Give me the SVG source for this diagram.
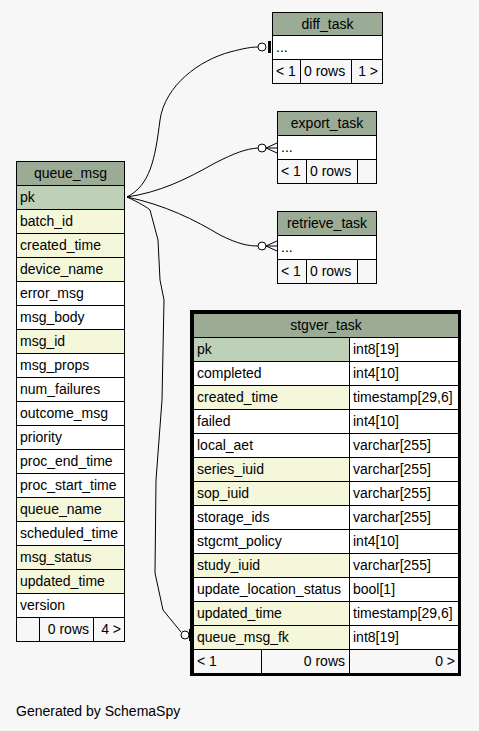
<svg xmlns="http://www.w3.org/2000/svg" width="479" height="731" viewBox="0 0 479 731">
<style>
text{font-family:"Liberation Sans",Arial,sans-serif;font-size:14px;fill:#000}
.h{fill:#9bab96;stroke:#000;stroke-width:1}
.k{fill:#bed1b8;stroke:#000;stroke-width:1}
.i{fill:#f4f7da;stroke:#000;stroke-width:1}
.w{fill:#fff;stroke:#000;stroke-width:1}
.f{fill:#f7f7f7;stroke:#000;stroke-width:1}
.c{text-anchor:middle}
.r{text-anchor:end}
.ln{fill:none;stroke:#000;stroke-width:1}
.o{fill:#fff;stroke:#000;stroke-width:1}
</style>
<rect width="479" height="731" fill="#f7f7f7"/>
<g id="connectors">
<path class="ln" d="M127,197 C150,185 155,160 160,120 C165,85 200,60 230,52 C245,48 252,47 258,47"/>
<circle class="o" cx="262" cy="47" r="4"/>
<rect x="268" y="41" width="3" height="12" fill="#000"/>
<path class="ln" d="M127,197 C160,192 185,180 215,163 C235,153 245,149 258,148"/>
<circle class="o" cx="262" cy="148" r="4"/>
<path class="ln" d="M266,148 L277,143 M266,148 L277,148 M266,148 L277,153"/>
<path class="ln" d="M127,197 C165,205 195,220 220,235 C238,244 248,246 258,246"/>
<circle class="o" cx="262" cy="246" r="4"/>
<path class="ln" d="M266,246 L277,241 M266,246 L277,246 M266,246 L277,251"/>
<path class="ln" d="M127,197 C140,203 148,208 150,210 L158,240 L160,280 L164,300 L162,400 L156,480 L155,573 L163,610 L181,632"/>
<circle class="o" cx="185" cy="635" r="4"/>
<rect x="189" y="629" width="2" height="12" fill="#000"/>
</g>
<g id="diff_task">
<rect class="h" x="272.5" y="12.5" width="110" height="23"/>
<text class="c" x="327.5" y="29">diff_task</text>
<rect class="w" x="272.5" y="35.5" width="110" height="24"/>
<text x="276" y="52">...</text>
<rect class="f" x="272.5" y="59.5" width="28" height="24"/>
<rect class="f" x="300.5" y="59.5" width="51" height="24"/>
<rect class="f" x="351.5" y="59.5" width="31" height="24"/>
<text x="276" y="76">&lt; 1</text>
<text x="304" y="76">0 rows</text>
<text class="r" x="378" y="76">1 &gt;</text>
</g>
<g id="export_task">
<rect class="h" x="277.5" y="111.5" width="99" height="24"/>
<text class="c" x="327" y="128">export_task</text>
<rect class="w" x="277.5" y="135.5" width="99" height="24"/>
<text x="281" y="152">...</text>
<rect class="f" x="277.5" y="159.5" width="29" height="24"/>
<rect class="f" x="306.5" y="159.5" width="51" height="24"/>
<rect class="f" x="357.5" y="159.5" width="19" height="24"/>
<text x="281" y="176">&lt; 1</text>
<text x="310" y="176">0 rows</text>
</g>
<g id="retrieve_task">
<rect class="h" x="277.5" y="211.5" width="99" height="24"/>
<text class="c" x="327" y="228">retrieve_task</text>
<rect class="w" x="277.5" y="235.5" width="99" height="24"/>
<text x="281" y="252">...</text>
<rect class="f" x="277.5" y="259.5" width="29" height="24"/>
<rect class="f" x="306.5" y="259.5" width="51" height="24"/>
<rect class="f" x="357.5" y="259.5" width="19" height="24"/>
<text x="281" y="276">&lt; 1</text>
<text x="310" y="276">0 rows</text>
</g>
<g id="queue_msg">
<rect class="h" x="16.5" y="161.5" width="108" height="24"/>
<text class="c" x="70.5" y="178">queue_msg</text>
<rect class="k" x="16.5" y="185.5" width="108" height="24"/><text x="20" y="202">pk</text>
<rect class="i" x="16.5" y="209.5" width="108" height="24"/><text x="20" y="226">batch_id</text>
<rect class="i" x="16.5" y="233.5" width="108" height="24"/><text x="20" y="250">created_time</text>
<rect class="i" x="16.5" y="257.5" width="108" height="24"/><text x="20" y="274">device_name</text>
<rect class="w" x="16.5" y="281.5" width="108" height="24"/><text x="20" y="298">error_msg</text>
<rect class="w" x="16.5" y="305.5" width="108" height="24"/><text x="20" y="322">msg_body</text>
<rect class="i" x="16.5" y="329.5" width="108" height="24"/><text x="20" y="346">msg_id</text>
<rect class="w" x="16.5" y="353.5" width="108" height="24"/><text x="20" y="370">msg_props</text>
<rect class="w" x="16.5" y="377.5" width="108" height="24"/><text x="20" y="394">num_failures</text>
<rect class="w" x="16.5" y="401.5" width="108" height="24"/><text x="20" y="418">outcome_msg</text>
<rect class="w" x="16.5" y="425.5" width="108" height="24"/><text x="20" y="442">priority</text>
<rect class="w" x="16.5" y="449.5" width="108" height="24"/><text x="20" y="466">proc_end_time</text>
<rect class="w" x="16.5" y="473.5" width="108" height="24"/><text x="20" y="490">proc_start_time</text>
<rect class="i" x="16.5" y="497.5" width="108" height="24"/><text x="20" y="514">queue_name</text>
<rect class="w" x="16.5" y="521.5" width="108" height="24"/><text x="20" y="538">scheduled_time</text>
<rect class="i" x="16.5" y="545.5" width="108" height="24"/><text x="20" y="562">msg_status</text>
<rect class="i" x="16.5" y="569.5" width="108" height="24"/><text x="20" y="586">updated_time</text>
<rect class="w" x="16.5" y="593.5" width="108" height="24"/><text x="20" y="610">version</text>
<rect class="f" x="16.5" y="617.5" width="23" height="24"/>
<rect class="f" x="39.5" y="617.5" width="54" height="24"/>
<rect class="f" x="93.5" y="617.5" width="31" height="24"/>
<text class="r" x="89" y="634">0 rows</text>
<text class="r" x="121" y="634">4 &gt;</text>
</g>
<g id="stgver_task">
<rect x="191.5" y="311.5" width="268" height="363" fill="none" stroke="#000" stroke-width="3"/>
<rect class="h" x="193.5" y="313.5" width="265" height="24"/>
<text class="c" x="326" y="330">stgver_task</text>
<rect class="k" x="193.5" y="337.5" width="156" height="24"/><text x="197" y="354">pk</text>
<rect class="i" x="193.5" y="385.5" width="156" height="24"/>
<rect class="w" x="193.5" y="361.5" width="156" height="24"/>
<rect class="w" x="193.5" y="409.5" width="156" height="24"/>
<rect class="w" x="193.5" y="433.5" width="156" height="24"/>
<rect class="i" x="193.5" y="457.5" width="156" height="24"/>
<rect class="i" x="193.5" y="481.5" width="156" height="24"/>
<rect class="w" x="193.5" y="505.5" width="156" height="24"/>
<rect class="w" x="193.5" y="529.5" width="156" height="24"/>
<rect class="i" x="193.5" y="553.5" width="156" height="24"/>
<rect class="w" x="193.5" y="577.5" width="156" height="24"/>
<rect class="i" x="193.5" y="601.5" width="156" height="24"/>
<rect class="i" x="193.5" y="625.5" width="156" height="24"/>
<rect class="w" x="349.5" y="337.5" width="109" height="24"/>
<rect class="w" x="349.5" y="361.5" width="109" height="24"/>
<rect class="w" x="349.5" y="385.5" width="109" height="24"/>
<rect class="w" x="349.5" y="409.5" width="109" height="24"/>
<rect class="w" x="349.5" y="433.5" width="109" height="24"/>
<rect class="w" x="349.5" y="457.5" width="109" height="24"/>
<rect class="w" x="349.5" y="481.5" width="109" height="24"/>
<rect class="w" x="349.5" y="505.5" width="109" height="24"/>
<rect class="w" x="349.5" y="529.5" width="109" height="24"/>
<rect class="w" x="349.5" y="553.5" width="109" height="24"/>
<rect class="w" x="349.5" y="577.5" width="109" height="24"/>
<rect class="w" x="349.5" y="601.5" width="109" height="24"/>
<rect class="w" x="349.5" y="625.5" width="109" height="24"/>
<text x="197" y="378">completed</text>
<text x="197" y="402">created_time</text>
<text x="197" y="426">failed</text>
<text x="197" y="450">local_aet</text>
<text x="197" y="474">series_iuid</text>
<text x="197" y="498">sop_iuid</text>
<text x="197" y="522">storage_ids</text>
<text x="197" y="546">stgcmt_policy</text>
<text x="197" y="570">study_iuid</text>
<text x="197" y="594">update_location_status</text>
<text x="197" y="618">updated_time</text>
<text x="197" y="642">queue_msg_fk</text>
<text x="353" y="354">int8[19]</text>
<text x="353" y="378">int4[10]</text>
<text x="353" y="402">timestamp[29,6]</text>
<text x="353" y="426">int4[10]</text>
<text x="353" y="450">varchar[255]</text>
<text x="353" y="474">varchar[255]</text>
<text x="353" y="498">varchar[255]</text>
<text x="353" y="522">varchar[255]</text>
<text x="353" y="546">int4[10]</text>
<text x="353" y="570">varchar[255]</text>
<text x="353" y="594">bool[1]</text>
<text x="353" y="618">timestamp[29,6]</text>
<text x="353" y="642">int8[19]</text>
<rect class="f" x="193.5" y="649.5" width="68" height="24"/>
<rect class="f" x="261.5" y="649.5" width="88" height="24"/>
<rect class="f" x="349.5" y="649.5" width="109" height="24"/>
<text x="197" y="666">&lt; 1</text>
<text class="r" x="345" y="666">0 rows</text>
<text class="r" x="455" y="666">0 &gt;</text>
</g>
<text x="16" y="716">Generated by SchemaSpy</text>
</svg>
